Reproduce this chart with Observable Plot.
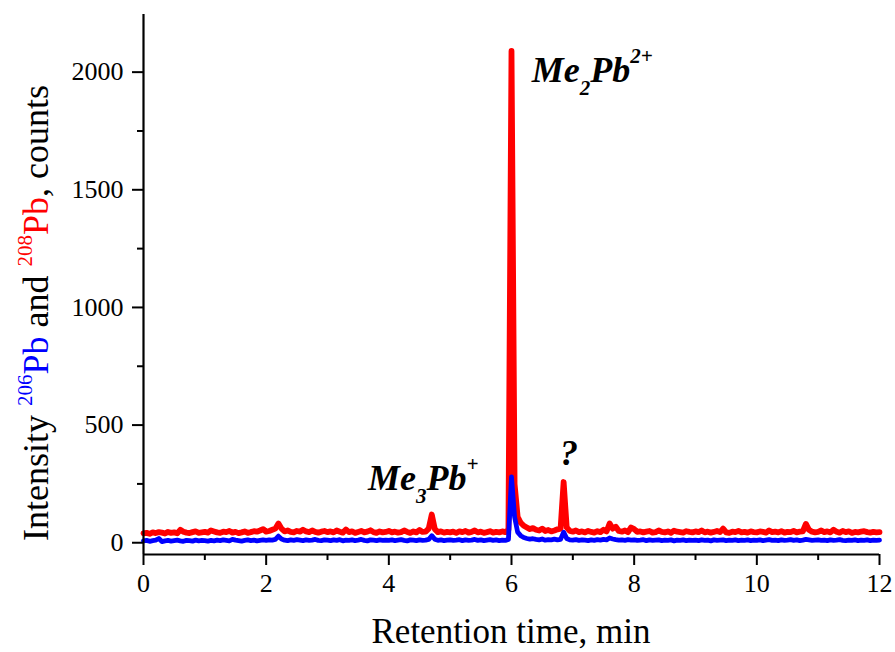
<!DOCTYPE html>
<html><head><meta charset="utf-8">
<script src="https://cdn.jsdelivr.net/npm/d3@7"></script>
<script src="https://cdn.jsdelivr.net/npm/@observablehq/plot@0.6"></script>
<style>body{margin:0;background:#fff}svg{display:block}</style>
</head><body><div id="chart"></div>
<script>
// Retention-time grid step (min); sample i is at i * timeStep
const timeStep = 0.05;

// 208Pb intensity (counts), one value per 0.05 min from 0 to 12 min
const pb208 = [
  40,42,38,44,41,45,43,39,46,42,44,40,55,47,43,41,45,48,42,44,
  46,43,52,48,44,42,47,45,50,43,46,41,44,48,42,45,49,47,52,58,
  47,50,55,60,82,60,48,52,46,44,50,47,55,48,45,52,46,43,47,50,
  45,48,44,52,47,43,56,45,48,42,46,50,44,47,53,45,42,48,44,46,
  50,44,47,43,45,52,46,42,48,44,54,46,47,60,120,58,45,48,43,46,
  44,47,42,48,45,50,43,46,52,44,47,42,45,49,43,46,44,48,45,55,
  2090,250,110,85,72,65,58,62,55,52,60,50,54,48,52,57,60,258,65,50,
  47,52,45,48,44,50,46,43,49,45,55,48,82,60,68,50,47,52,45,65,
  58,46,48,44,47,50,43,45,52,46,44,48,42,51,47,45,43,49,46,44,
  48,45,52,44,47,43,46,50,45,60,44,42,47,45,50,44,46,43,48,45,
  44,48,46,43,52,45,47,44,49,43,46,45,50,44,47,48,80,55,47,44,
  46,52,45,48,44,55,47,43,50,45,48,42,46,44,47,49,45,43,46,44,
  45
];

// 206Pb intensity (counts), same grid
const pb206 = [
  8,10,6,9,11,18,5,8,10,7,9,11,8,6,10,9,7,11,8,10,
  9,7,10,8,11,9,12,10,8,14,11,9,7,10,12,9,11,8,10,12,
  10,12,11,14,28,16,11,9,12,10,13,11,9,12,10,11,14,10,9,12,
  11,9,12,10,13,8,11,10,12,9,11,14,10,8,12,11,9,12,10,11,
  10,12,9,11,13,10,8,12,11,9,12,10,11,14,30,15,10,12,9,11,
  12,10,11,13,9,12,10,11,14,10,12,9,11,13,10,12,9,11,10,14,
  280,110,45,30,22,18,15,17,14,12,16,11,13,12,15,12,14,45,18,12,
  11,13,10,12,11,9,12,10,13,11,14,12,20,16,13,11,12,10,13,11,
  12,10,11,13,9,12,10,11,12,9,11,10,12,8,11,10,12,9,11,10,
  11,9,12,10,11,8,12,10,11,12,9,11,10,12,9,11,10,12,9,11,
  10,12,9,11,13,10,11,9,12,10,11,13,10,12,9,11,14,12,10,11,
  12,10,11,9,12,10,11,13,10,9,11,10,12,9,11,10,12,9,11,10,
  11
];

const xMajorTicks = [0, 2, 4, 6, 8, 10, 12];
const xMinorTicks = [1, 3, 5, 7, 9, 11];
const yMajorTicks = [0, 500, 1000, 1500, 2000];
const yMinorTicks = [250, 750, 1250, 1750];
const xDomain = [0, 12];
const yDomain = [-50, 2245];

// Peak labels: anchor (retention time, counts) of the label's left baseline
const peakLabels = [
  {t: 6.34, v: 1957, base: "Me", index: "2", rest: "Pb", charge: "2+"},
  {t: 3.67, v: 222, base: "Me", index: "3", rest: "Pb", charge: "+"},
  {t: 6.80, v: 328, base: "?", index: "", rest: "", charge: ""}
];

const rows208 = pb208.map((v, i) => ({t: +(i * timeStep).toFixed(2), v}));
const rows206 = pb206.map((v, i) => ({t: +(i * timeStep).toFixed(2), v}));

const serif = "Liberation Serif";
const fmt = d3.format("d");
const plot = Plot.plot({
  width: 895,
  height: 652,
  marginLeft: 143,
  marginRight: 16,
  marginTop: 14,
  marginBottom: 98,
  style: {fontFamily: serif, fontSize: "26px", background: "#fff", color: "#000"},
  x: {domain: xDomain},
  y: {domain: yDomain},
  marks: [
    Plot.line(rows208, {x: "t", y: "v", stroke: "#ff0000", strokeWidth: 5.8, strokeLinejoin: "round", strokeLinecap: "round"}),
    Plot.line(rows206, {x: "t", y: "v", stroke: "#0000ff", strokeWidth: 4.8, strokeLinejoin: "round", strokeLinecap: "round"}),
    Plot.axisX({ticks: xMajorTicks, tickSize: 11, tickPadding: 8, tickFormat: fmt, strokeWidth: 2, fontSize: 26, fontFamily: serif, label: null}),
    Plot.axisX({ticks: xMinorTicks, tickSize: 6, tickFormat: () => "", strokeWidth: 2, label: null}),
    Plot.axisY({ticks: yMajorTicks, tickSize: 11, tickPadding: 9, tickFormat: fmt, strokeWidth: 2, fontSize: 26, fontFamily: serif, label: null}),
    Plot.axisY({ticks: yMinorTicks, tickSize: 6, tickFormat: () => "", strokeWidth: 2, label: null}),
    Plot.ruleX([xDomain[0]], {strokeWidth: 2.2}),
    Plot.ruleY([yDomain[0]], {strokeWidth: 2.2})
  ]
});
document.getElementById("chart").appendChild(plot);

const svg = d3.select(plot);
svg.selectAll("text").attr("font-family", serif);
const xs = plot.scale("x"), ys = plot.scale("y");

// Peak annotations
for (const p of peakLabels) {
  const t = svg.append("text")
    .attr("x", xs.apply(p.t)).attr("y", ys.apply(p.v))
    .attr("text-anchor", "start")
    .attr("font-family", serif).attr("font-size", 36)
    .attr("font-weight", "bold").attr("font-style", "italic").attr("fill", "#000");
  t.append("tspan").text(p.base);
  if (p.index) {
    t.append("tspan").attr("font-size", 21).attr("dy", 13).text(p.index);
    t.append("tspan").attr("dy", -13).text(p.rest);
  }
  if (p.charge) t.append("tspan").attr("font-size", 21).attr("dy", -19).text(p.charge);
}

// Y axis title with coloured isotopes
const yl = svg.append("text")
  .attr("transform", `translate(48,${(14 + 554) / 2 + 29}) rotate(-90)`)
  .attr("text-anchor", "middle").attr("font-family", serif).attr("font-size", 36).attr("fill", "#000");
yl.append("tspan").text("Intensity ");
yl.append("tspan").attr("fill", "#0000ff").attr("font-size", 21).attr("dy", -16).text("206");
yl.append("tspan").attr("fill", "#0000ff").attr("dy", 16).text("Pb");
yl.append("tspan").text(" and ");
yl.append("tspan").attr("fill", "#ff0000").attr("font-size", 21).attr("dy", -16).text("208");
yl.append("tspan").attr("fill", "#ff0000").attr("dy", 16).text("Pb");
yl.append("tspan").text(", counts");

// X axis title
svg.append("text")
  .attr("x", (xs.apply(xDomain[0]) + xs.apply(xDomain[1])) / 2).attr("y", 643)
  .attr("text-anchor", "middle").attr("font-family", serif).attr("font-size", 35).attr("fill", "#000")
  .text("Retention time, min");
</script>
</body></html>
